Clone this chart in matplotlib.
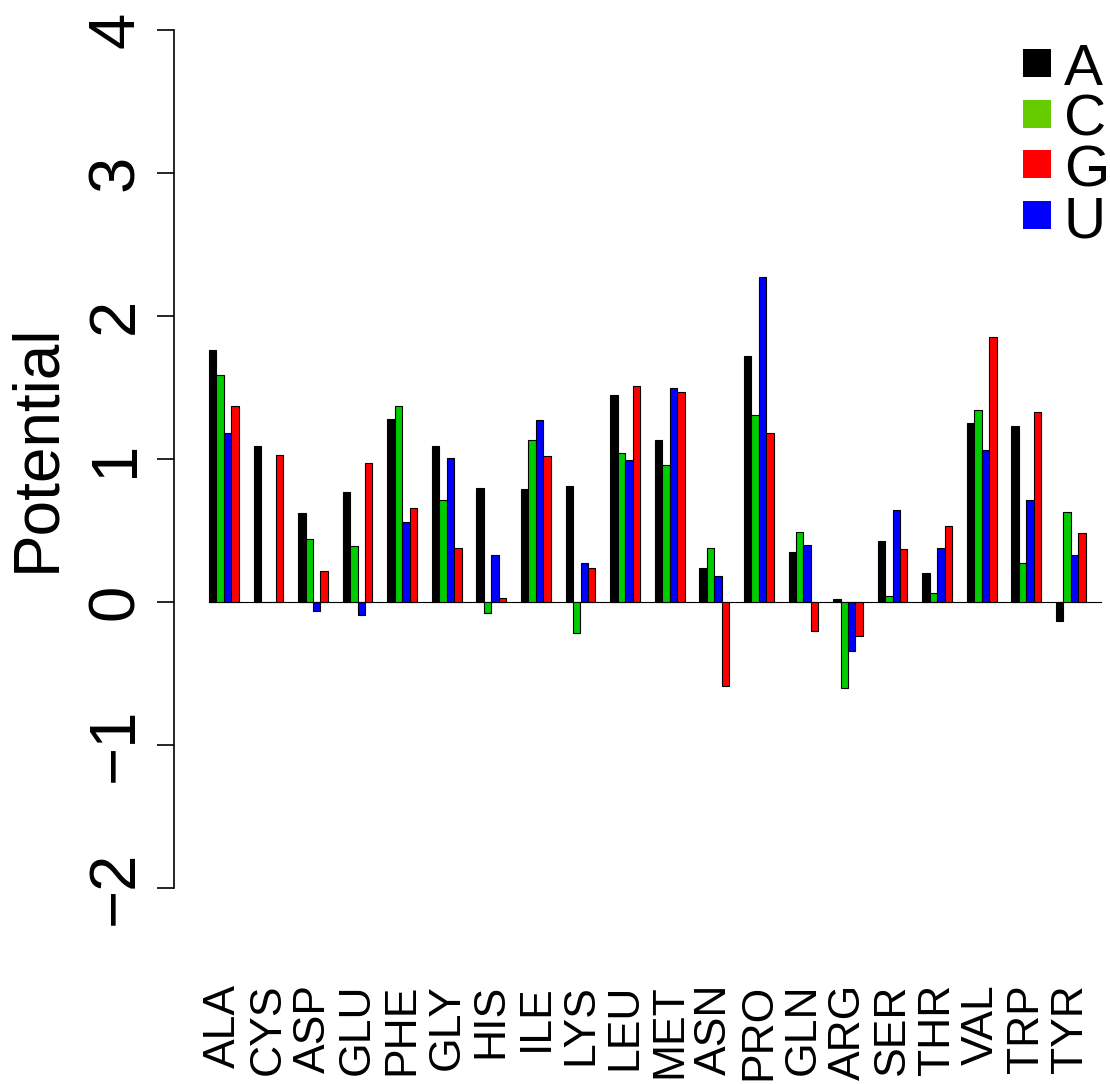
import numpy as np
import matplotlib
matplotlib.use("Agg")
from matplotlib import pyplot as plt
from matplotlib.patches import Rectangle

plt.rcParams['font.family'] = ['Liberation Sans', 'DejaVu Sans']

residues = ["ALA", "CYS", "ASP", "GLU", "PHE", "GLY", "HIS", "ILE", "LYS", "LEU",
            "MET", "ASN", "PRO", "GLN", "ARG", "SER", "THR", "VAL", "TRP", "TYR"]

# potential per residue for each base
pot_A = [1.76, 1.09, 0.62, 0.77, 1.28, 1.09, 0.80, 0.79, 0.81, 1.45,
         1.13, 0.24, 1.72, 0.35, 0.02, 0.43, 0.20, 1.25, 1.23, -0.13]
pot_C = [1.59, 0.00, 0.44, 0.39, 1.37, 0.71, -0.08, 1.13, -0.22, 1.04,
         0.96, 0.38, 1.31, 0.49, -0.60, 0.04, 0.06, 1.34, 0.27, 0.63]
pot_U = [1.18, 0.00, -0.06, -0.09, 0.56, 1.01, 0.33, 1.27, 0.27, 0.99,
         1.50, 0.18, 2.27, 0.40, -0.34, 0.64, 0.38, 1.06, 0.71, 0.33]
pot_G = [1.37, 1.03, 0.22, 0.97, 0.66, 0.38, 0.03, 1.02, 0.24, 1.51,
         1.47, -0.59, 1.18, -0.20, -0.24, 0.37, 0.53, 1.85, 1.33, 0.48]

series = [pot_A, pot_C, pot_U, pot_G]
bar_colors = ["#000000", "#00CD00", "#0000FF", "#FF0000"]

legend_labels = ["A", "C", "G", "U"]
legend_colors = ["#000000", "#66CC00", "#FF0000", "#0000FF"]

W, H = 1110, 1084
fig = plt.figure(figsize=(W / 100.0, H / 100.0), dpi=100)

unit = 7.43  # px per bar
x0 = 209
ax = fig.add_axes([174.0 / W, 196.0 / H, (W - 174.0) / W, 858.0 / H])

n = len(residues)
group = np.arange(n) * 6
for k, (vals, col) in enumerate(zip(series, bar_colors)):
    ax.bar(group + k, vals, width=1.0, align="edge", color=col,
           edgecolor="black", linewidth=0.8, zorder=3)

ax.plot([0, 6 * n], [0, 0], color="black", linewidth=0.8, zorder=2)

ax.set_xlim((174 - x0) / unit, (W - x0) / unit)
ax.set_ylim(-2, 4)

for s in ["top", "right", "bottom"]:
    ax.spines[s].set_visible(False)
ax.spines["left"].set_linewidth(1.2)

ax.set_yticks(np.arange(-2, 5, 1))
ax.tick_params(axis="y", length=12, width=1.2, pad=8, labelsize=47)
for lab in ax.get_yticklabels():
    lab.set_rotation(90)
    lab.set_va("center")

ax.set_xticks(group + 2)
ax.set_xticklabels(residues, rotation=90, va="top", ha="center", fontsize=32)
ax.tick_params(axis="x", length=0, pad=69)

fig.text(37.0 / W, 1 - 448.0 / H, "Potential", rotation=90, fontsize=46,
         ha="center", va="center")

# legend drawn in pixel layout
for i, (lab, col) in enumerate(zip(legend_labels, legend_colors)):
    top = 49 + 50.7 * i
    fig.add_artist(Rectangle((1023.0 / W, 1 - (top + 28) / H), 28.0 / W, 28.0 / H,
                             transform=fig.transFigure, facecolor=col,
                             edgecolor="none"))
    fig.text(1064.0 / W, 1 - (top + 36) / H, lab, fontsize=42,
             ha="left", va="baseline")

fig.savefig("out.png", dpi=100)
